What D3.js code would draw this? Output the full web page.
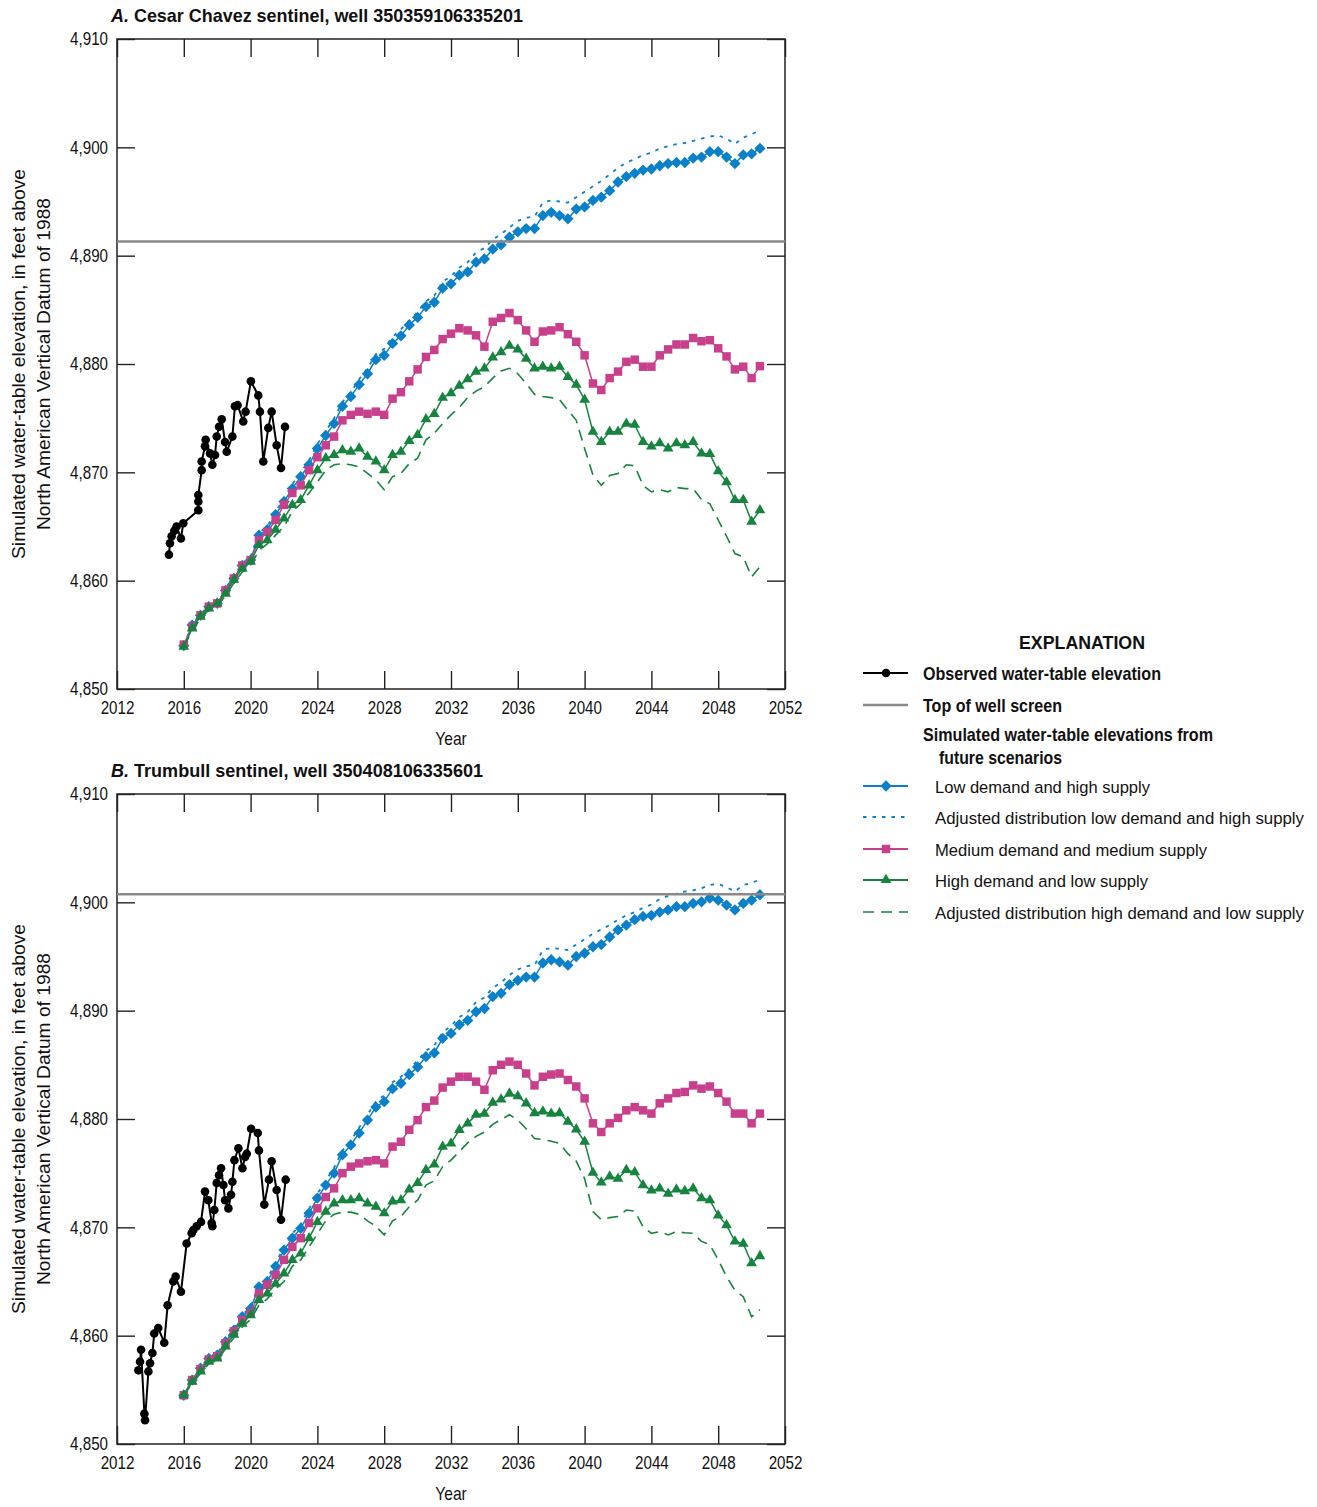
<!DOCTYPE html>
<html>
<head>
<meta charset="utf-8">
<script src="https://cdn.jsdelivr.net/npm/d3@7"></script>
<style>
  body { margin: 0; background: #fff; }
  text { font-family: "Liberation Sans", Arial, sans-serif; fill: #111; }
</style>
</head>
<body>
<div id="chart"></div>
<script>
// simulated time steps (half years)
const simYears = [2016, 2016.5, 2017, 2017.5, 2018, 2018.5, 2019, 2019.5, 2020, 2020.5,
  2021, 2021.5, 2022, 2022.5, 2023, 2023.5, 2024, 2024.5, 2025, 2025.5,
  2026, 2026.5, 2027, 2027.5, 2028, 2028.5, 2029, 2029.5, 2030, 2030.5,
  2031, 2031.5, 2032, 2032.5, 2033, 2033.5, 2034, 2034.5, 2035, 2035.5,
  2036, 2036.5, 2037, 2037.5, 2038, 2038.5, 2039, 2039.5, 2040, 2040.5,
  2041, 2041.5, 2042, 2042.5, 2043, 2043.5, 2044, 2044.5, 2045, 2045.5,
  2046, 2046.5, 2047, 2047.5, 2048, 2048.5, 2049, 2049.5, 2050, 2050.5]

// ---- panel A, Cesar Chavez ----
const obsYearsA = [2015.11, 2015.17, 2015.27, 2015.43, 2015.57, 2015.83, 2015.97, 2016.87, 2016.87, 2016.87,
  2017.07, 2017.07, 2017.27, 2017.31, 2017.57, 2017.71, 2017.87, 2017.97, 2018.11, 2018.27,
  2018.47, 2018.57, 2018.91, 2019.06, 2019.22, 2019.56, 2019.7, 2020.02, 2020.46, 2020.56,
  2020.76, 2021.06, 2021.26, 2021.56, 2021.82, 2022.06]
const obsValuesA = [4862.4, 4863.45, 4864.1, 4864.6, 4865.0, 4863.9, 4865.3, 4866.5, 4867.3, 4867.9,
  4870.2, 4871.0, 4872.4, 4873.0, 4871.75, 4870.7, 4871.6, 4873.3, 4874.2, 4874.9,
  4872.8, 4871.9, 4873.3, 4876.1, 4876.2, 4874.7, 4875.6, 4878.4, 4877.1, 4875.6,
  4871.0, 4874.1, 4875.6, 4872.5, 4870.4, 4874.2]
const screenTopA = 4891.3
const lowHighA = [4854.0, 4855.9, 4856.8, 4857.6, 4857.9, 4859.1, 4860.2, 4861.4, 4861.9, 4864.2,
  4864.7, 4866.1, 4867.3, 4868.5, 4869.6, 4870.7, 4872.2, 4873.4, 4874.5, 4876.1,
  4877.0, 4878.1, 4879.1, 4880.4, 4880.8, 4881.9, 4882.6, 4883.6, 4884.3, 4885.3,
  4885.7, 4887.0, 4887.4, 4888.2, 4888.5, 4889.4, 4889.7, 4890.6, 4891.0, 4891.7,
  4892.2, 4892.5, 4892.5, 4893.7, 4894.0, 4893.7, 4893.4, 4894.3, 4894.5, 4895.1,
  4895.4, 4896.0, 4896.8, 4897.3, 4897.6, 4897.9, 4898.0, 4898.3, 4898.5, 4898.6,
  4898.6, 4899.0, 4899.1, 4899.6, 4899.6, 4899.1, 4898.5, 4899.3, 4899.4, 4899.9]
const adjLowHighA = [4854.0, 4855.9, 4856.9, 4857.7, 4858.0, 4859.3, 4860.4, 4861.6, 4862.2, 4864.4,
  4865.0, 4866.4, 4867.6, 4868.9, 4870.0, 4871.1, 4872.6, 4873.8, 4875.0, 4876.5,
  4877.4, 4878.6, 4879.6, 4880.9, 4881.4, 4882.5, 4883.2, 4884.0, 4884.8, 4885.8,
  4886.3, 4887.6, 4888.1, 4888.9, 4889.4, 4890.3, 4890.7, 4891.5, 4892.0, 4892.6,
  4893.2, 4893.5, 4893.6, 4894.9, 4895.1, 4895.0, 4894.9, 4895.4, 4895.9, 4896.4,
  4896.9, 4897.5, 4898.1, 4898.6, 4898.9, 4899.3, 4899.5, 4899.9, 4900.1, 4900.3,
  4900.4, 4900.6, 4900.8, 4901.0, 4901.1, 4900.8, 4900.3, 4900.9, 4901.2, 4901.6]
const medMedA = [4854.1, 4855.75, 4856.8, 4857.6, 4857.9, 4859.1, 4860.2, 4861.4, 4861.9, 4863.75,
  4864.5, 4865.6, 4867.0, 4868.1, 4868.8, 4870.2, 4871.4, 4872.5, 4873.3, 4874.8,
  4875.3, 4875.6, 4875.4, 4875.6, 4875.3, 4876.8, 4877.4, 4878.4, 4879.5, 4880.65,
  4881.3, 4882.3, 4882.8, 4883.3, 4883.1, 4882.65, 4881.6, 4883.9, 4884.25, 4884.7,
  4884.05, 4883.1, 4882.05, 4883.0, 4883.1, 4883.4, 4882.75, 4882.05, 4880.8, 4878.2,
  4877.6, 4878.7, 4879.3, 4880.2, 4880.4, 4879.75, 4879.75, 4880.8, 4881.35, 4881.8,
  4881.8, 4882.4, 4882.1, 4882.2, 4881.45, 4880.7, 4879.5, 4879.75, 4878.7, 4879.8]
const highLowA = [4853.9, 4855.6, 4856.7, 4857.45, 4857.9, 4858.8, 4860.1, 4861.1, 4861.75, 4863.3,
  4863.75, 4864.7, 4865.75, 4867.0, 4867.45, 4868.8, 4870.2, 4871.3, 4871.6, 4872.05,
  4871.9, 4872.2, 4871.45, 4871.0, 4870.2, 4871.6, 4871.9, 4872.9, 4873.45, 4874.9,
  4875.4, 4876.9, 4877.3, 4878.0, 4878.6, 4879.3, 4879.6, 4880.6, 4881.1, 4881.7,
  4881.35, 4880.5, 4879.6, 4879.75, 4879.6, 4879.75, 4878.8, 4878.1, 4876.7, 4873.75,
  4872.8, 4873.75, 4873.75, 4874.5, 4874.4, 4872.8, 4872.4, 4872.7, 4872.2, 4872.7,
  4872.5, 4872.8, 4871.75, 4871.7, 4870.1, 4869.1, 4867.45, 4867.45, 4865.45, 4866.5]
const adjHighLowA = [4853.9, 4855.4, 4856.5, 4857.3, 4857.7, 4858.6, 4859.8, 4860.8, 4861.4, 4862.8,
  4863.4, 4864.2, 4865.0, 4866.4, 4867.1, 4868.1, 4869.1, 4870.2, 4870.7, 4870.8,
  4870.7, 4870.5, 4869.9, 4869.3, 4868.4, 4869.6, 4869.9, 4870.8, 4871.3, 4873.0,
  4873.6, 4874.5, 4875.3, 4876.0, 4876.9, 4877.5, 4877.9, 4878.7, 4879.35, 4879.6,
  4879.1, 4878.2, 4877.2, 4877.0, 4876.9, 4876.7, 4875.75, 4874.8, 4872.2, 4869.75,
  4868.8, 4869.7, 4869.9, 4870.7, 4870.6, 4868.8, 4868.2, 4868.4, 4868.2, 4868.6,
  4868.5, 4868.5, 4867.5, 4867.1, 4865.6, 4864.1, 4862.5, 4862.2, 4860.35, 4861.3]

// ---- panel B, Trumbull ----
const obsYearsB = [2013.28, 2013.38, 2013.44, 2013.64, 2013.68, 2013.88, 2013.98, 2014.12, 2014.23, 2014.47,
  2014.83, 2015.03, 2015.37, 2015.51, 2015.83, 2016.17, 2016.47, 2016.57, 2016.77, 2017.03,
  2017.27, 2017.47, 2017.67, 2017.71, 2017.83, 2017.97, 2018.11, 2018.23, 2018.37, 2018.47,
  2018.67, 2018.83, 2018.91, 2019.03, 2019.27, 2019.51, 2019.67, 2019.77, 2020.03, 2020.43,
  2020.5, 2020.82, 2021.1, 2021.26, 2021.56, 2021.82, 2022.1]
const obsValuesB = [4856.8, 4857.6, 4858.7, 4852.8, 4852.2, 4856.7, 4857.45, 4858.4, 4860.2, 4860.7,
  4859.35, 4862.8, 4865.0, 4865.45, 4864.05, 4868.5, 4869.45, 4869.75, 4870.1, 4870.5,
  4873.3, 4872.5, 4870.4, 4870.1, 4871.6, 4874.1, 4874.8, 4875.45, 4873.9, 4872.5,
  4871.75, 4873.0, 4874.2, 4876.2, 4877.3, 4875.45, 4876.5, 4876.8, 4879.1, 4878.7,
  4877.1, 4872.1, 4874.4, 4876.1, 4873.45, 4870.7, 4874.4]
const screenTopB = 4900.75
const lowHighB = [4854.5, 4855.9, 4857.0, 4857.9, 4858.2, 4859.45, 4860.5, 4861.75, 4862.5, 4864.5,
  4865.0, 4866.4, 4867.9, 4869.0, 4869.9, 4871.3, 4872.7, 4873.9, 4875.0, 4876.7,
  4877.6, 4878.7, 4879.9, 4881.1, 4881.6, 4882.8, 4883.3, 4884.1, 4884.8, 4885.75,
  4886.1, 4887.45, 4887.9, 4888.7, 4889.1, 4889.9, 4890.2, 4891.3, 4891.6, 4892.4,
  4892.8, 4893.1, 4893.1, 4894.4, 4894.7, 4894.5, 4894.2, 4895.0, 4895.3, 4895.9,
  4896.1, 4896.8, 4897.45, 4897.9, 4898.4, 4898.7, 4898.8, 4899.1, 4899.3, 4899.6,
  4899.6, 4899.9, 4900.05, 4900.4, 4900.2, 4899.75, 4899.3, 4899.9, 4900.2, 4900.7]
const adjLowHighB = [4854.5, 4856.0, 4857.1, 4858.0, 4858.3, 4859.6, 4860.7, 4861.9, 4862.7, 4864.7,
  4865.3, 4866.7, 4868.2, 4869.4, 4870.3, 4871.7, 4873.1, 4874.3, 4875.5, 4877.1,
  4878.0, 4879.2, 4880.4, 4881.6, 4882.2, 4883.4, 4883.9, 4884.6, 4885.4, 4886.3,
  4886.8, 4888.0, 4888.6, 4889.4, 4889.9, 4890.8, 4891.2, 4892.1, 4892.6, 4893.3,
  4893.8, 4894.1, 4894.2, 4895.6, 4895.8, 4895.7, 4895.6, 4896.1, 4896.6, 4897.1,
  4897.5, 4897.9, 4898.4, 4898.8, 4899.1, 4899.5, 4899.8, 4900.3, 4900.6, 4900.8,
  4901.0, 4901.1, 4901.3, 4901.6, 4901.7, 4901.4, 4901.0, 4901.6, 4901.8, 4902.1]
const medMedB = [4854.5, 4855.9, 4856.9, 4857.8, 4858.1, 4859.3, 4860.4, 4861.45, 4862.1, 4863.9,
  4864.7, 4865.6, 4867.0, 4868.2, 4869.0, 4870.4, 4871.75, 4872.8, 4873.6, 4875.0,
  4875.6, 4875.9, 4876.1, 4876.2, 4875.9, 4877.45, 4877.9, 4879.0, 4879.9, 4881.1,
  4881.7, 4882.9, 4883.45, 4883.9, 4883.9, 4883.45, 4882.7, 4884.5, 4885.0, 4885.3,
  4885.0, 4884.2, 4883.1, 4883.9, 4884.1, 4884.2, 4883.6, 4883.0, 4881.9, 4879.6,
  4878.8, 4879.6, 4880.1, 4880.8, 4881.1, 4880.8, 4880.5, 4881.45, 4881.9, 4882.4,
  4882.5, 4883.1, 4882.8, 4883.0, 4882.4, 4881.6, 4880.5, 4880.5, 4879.6, 4880.5]
const highLowB = [4854.5, 4855.75, 4856.7, 4857.6, 4857.9, 4859.0, 4860.1, 4861.1, 4861.9, 4863.3,
  4863.9, 4864.8, 4865.75, 4867.0, 4867.6, 4869.0, 4870.5, 4871.45, 4872.2, 4872.5,
  4872.5, 4872.7, 4872.2, 4871.9, 4871.3, 4872.4, 4872.5, 4873.5, 4874.1, 4875.3,
  4875.8, 4877.45, 4877.75, 4879.0, 4879.6, 4880.4, 4880.5, 4881.5, 4881.8, 4882.35,
  4882.1, 4881.45, 4880.55, 4880.7, 4880.5, 4880.55, 4879.75, 4879.05, 4877.9, 4875.05,
  4874.15, 4874.7, 4874.5, 4875.3, 4875.1, 4873.9, 4873.4, 4873.6, 4873.1, 4873.5,
  4873.35, 4873.6, 4872.7, 4872.5, 4871.1, 4870.2, 4868.7, 4868.5, 4866.7, 4867.35]
const adjHighLowB = [4854.5, 4855.6, 4856.5, 4857.4, 4857.7, 4858.8, 4859.8, 4860.8, 4861.5, 4862.8,
  4863.4, 4864.3, 4865.0, 4866.4, 4867.0, 4868.2, 4869.4, 4870.6, 4871.2, 4871.4,
  4871.4, 4871.2, 4870.6, 4870.1, 4869.3, 4870.6, 4871.0, 4871.9, 4872.5, 4873.9,
  4874.3, 4875.6, 4876.2, 4877.0, 4877.8, 4878.4, 4878.8, 4879.5, 4879.95, 4880.4,
  4879.9, 4879.1, 4878.2, 4878.1, 4877.95, 4877.75, 4876.8, 4876.1, 4874.5, 4871.45,
  4870.7, 4870.9, 4871.0, 4871.6, 4871.5, 4870.05, 4869.45, 4869.6, 4869.3, 4869.6,
  4869.5, 4869.45, 4868.7, 4868.4, 4867.0, 4865.45, 4864.2, 4863.6, 4861.75, 4862.4]

const xTicks = [2012, 2016, 2020, 2024, 2028, 2032, 2036, 2040, 2044, 2048, 2052]
const yTicks = [4850, 4860, 4870, 4880, 4890, 4900, 4910]

const blue = '#0a80c8'
const pink = '#c8408b'
const green = '#16843f'
const gray = '#8a8a8a'

const width = 1317
const height = 1507
const plotLeft = 117
const plotWidth = 668
const plotHeight = 650
const squeeze = 0.82 // condensed type, the installed fonts are all normal width

const svg = d3.select('#chart')
  .append('svg')
    .attr('width', width)
    .attr('height', height)

// squeeze a text to a condensed width (or to a given width)
function narrow(sel, w) {
  sel.each(function() {
    const len = w || this.getComputedTextLength() * squeeze
    d3.select(this).attr('textLength', len).attr('lengthAdjust', 'spacingAndGlyphs')
  })
  return sel
}

const xScale = d3.scaleLinear().domain([2012, 2052]).range([0, plotWidth])
const yScale = d3.scaleLinear().domain([4850, 4910]).range([plotHeight, 0])

const zipUp = (xs, ys) => xs.map((v, i) => [v, ys[i]])

const panels = [
  { letter: 'A.', name: ' Cesar Chavez sentinel, well 350359106335201', titleWidth: 412, top: 39,
    obs: zipUp(obsYearsA, obsValuesA), screen: screenTopA,
    lowHigh: lowHighA, adjLowHigh: adjLowHighA, medMed: medMedA, highLow: highLowA, adjHighLow: adjHighLowA },
  { letter: 'B.', name: ' Trumbull sentinel, well 350408106335601', titleWidth: 372, top: 794,
    obs: zipUp(obsYearsB, obsValuesB), screen: screenTopB,
    lowHigh: lowHighB, adjLowHigh: adjLowHighB, medMed: medMedB, highLow: highLowB, adjHighLow: adjHighLowB }
]

const line = d3.line().x(d => xScale(d[0])).y(d => yScale(d[1]))

const diamond = d3.symbol(d3.symbolSquare, 64)
const square = d3.symbol(d3.symbolSquare, 72)
const triangle = d3.symbol(d3.symbolTriangle, 50)

function drawPanel(p) {
  const g = svg.append('g').attr('transform', `translate(${plotLeft}, ${p.top})`)

  // title
  const title = svg.append('text')
    .attr('x', 111)
    .attr('y', p.top - 17)
    .style('font-size', '18.5px')
    .style('font-weight', 'bold')
  title.append('tspan').style('font-style', 'italic').text(p.letter)
  title.append('tspan').text(p.name)
  narrow(title, p.titleWidth)

  // axes, ticks pointing inward
  g.append('g')
    .attr('transform', `translate(0, ${plotHeight})`)
    .call(d3.axisBottom(xScale).tickValues(xTicks).tickSize(-18).tickSizeOuter(0).tickPadding(12).tickFormat(d3.format('d')))
  g.append('g')
    .call(d3.axisTop(xScale).tickValues(xTicks).tickSize(-18).tickSizeOuter(0).tickFormat(''))
  g.append('g')
    .call(d3.axisLeft(yScale).tickValues(yTicks).tickSize(-18).tickSizeOuter(0).tickPadding(9).tickFormat(d3.format(',')))
  g.append('g')
    .attr('transform', `translate(${plotWidth}, 0)`)
    .call(d3.axisRight(yScale).tickValues(yTicks).tickSize(-18).tickSizeOuter(0).tickFormat(''))

  g.selectAll('.tick line').attr('stroke', '#222').attr('stroke-width', 1.4)
  g.selectAll('.domain').remove()
  const tickText = g.selectAll('.tick text')
    .style('font-size', '18.5px')
    .attr('fill', '#111')
    .style('font-family', '"Liberation Sans", Arial, sans-serif')
  narrow(tickText)

  g.append('rect')
    .attr('width', plotWidth)
    .attr('height', plotHeight)
    .attr('fill', 'none')
    .attr('stroke', '#222')
    .attr('stroke-width', 1.5)

  // axis titles
  narrow(svg.append('text')
    .attr('x', plotLeft + plotWidth / 2)
    .attr('y', p.top + plotHeight + 56)
    .attr('text-anchor', 'middle')
    .style('font-size', '19px')
    .text('Year'))

  const midY = p.top + plotHeight / 2
  narrow(svg.append('text')
    .attr('transform', `translate(25, ${midY}) rotate(-90)`)
    .attr('text-anchor', 'middle')
    .style('font-size', '19px')
    .text('Simulated water-table elevation, in feet above'), 390)
  narrow(svg.append('text')
    .attr('transform', `translate(50, ${midY}) rotate(-90)`)
    .attr('text-anchor', 'middle')
    .style('font-size', '19px')
    .text('North American Vertical Datum of 1988'), 332)

  const series = d => zipUp(simYears, d)

  // low demand and high supply
  g.append('path')
    .attr('d', line(series(p.lowHigh)))
    .attr('fill', 'none')
    .attr('stroke', blue)
    .attr('stroke-width', 1.5)
  g.selectAll('.diamond')
    .data(series(p.lowHigh))
    .enter()
    .append('path')
      .attr('class', 'diamond')
      .attr('d', diamond)
      .attr('transform', d => `translate(${xScale(d[0])}, ${yScale(d[1])}) rotate(45)`)
      .attr('fill', blue)

  // adjusted distribution low demand and high supply
  g.append('path')
    .attr('d', line(series(p.adjLowHigh)))
    .attr('fill', 'none')
    .attr('stroke', blue)
    .attr('stroke-width', 1.8)
    .attr('stroke-dasharray', '3.5,6')

  // medium demand and medium supply
  g.append('path')
    .attr('d', line(series(p.medMed)))
    .attr('fill', 'none')
    .attr('stroke', pink)
    .attr('stroke-width', 1.5)
  g.selectAll('.square')
    .data(series(p.medMed))
    .enter()
    .append('path')
      .attr('class', 'square')
      .attr('d', square)
      .attr('transform', d => `translate(${xScale(d[0])}, ${yScale(d[1])})`)
      .attr('fill', pink)

  // adjusted distribution high demand and low supply
  g.append('path')
    .attr('d', line(series(p.adjHighLow)))
    .attr('fill', 'none')
    .attr('stroke', green)
    .attr('stroke-width', 1.6)
    .attr('stroke-dasharray', '11,7')

  // high demand and low supply
  g.append('path')
    .attr('d', line(series(p.highLow)))
    .attr('fill', 'none')
    .attr('stroke', green)
    .attr('stroke-width', 1.5)
  g.selectAll('.tri')
    .data(series(p.highLow))
    .enter()
    .append('path')
      .attr('class', 'tri')
      .attr('d', triangle)
      .attr('transform', d => `translate(${xScale(d[0])}, ${yScale(d[1])})`)
      .attr('fill', green)

  // top of well screen
  g.append('line')
    .attr('x1', 0)
    .attr('x2', plotWidth)
    .attr('y1', yScale(p.screen))
    .attr('y2', yScale(p.screen))
    .attr('stroke', gray)
    .attr('stroke-width', 2.5)

  // observed
  g.append('path')
    .attr('d', line(p.obs))
    .attr('fill', 'none')
    .attr('stroke', '#000')
    .attr('stroke-width', 2)
  g.selectAll('.obs')
    .data(p.obs)
    .enter()
    .append('circle')
      .attr('class', 'obs')
      .attr('cx', d => xScale(d[0]))
      .attr('cy', d => yScale(d[1]))
      .attr('r', 4.3)
      .attr('fill', '#000')
}

panels.forEach(drawPanel)

// ---- explanation ----
const legend = svg.append('g')
narrow(legend.append('text')
  .attr('x', 1082)
  .attr('y', 649)
  .attr('text-anchor', 'middle')
  .style('font-size', '19px')
  .style('font-weight', 'bold')
  .text('EXPLANATION'), 126)

const legendItems = [
  { y: 673, label: 'Observed water-table elevation', w: 238, bold: true, color: '#000', mark: 'circle' },
  { y: 705, label: 'Top of well screen', w: 139, bold: true, color: gray, width: 2.5 },
  { y: 786, label: 'Low demand and high supply', w: 215, color: blue, mark: 'diamond' },
  { y: 817, label: 'Adjusted distribution low demand and high supply', w: 369, color: blue, dash: '3.5,6', width: 1.8 },
  { y: 849, label: 'Medium demand and medium supply', w: 272, color: pink, mark: 'square' },
  { y: 880, label: 'High demand and low supply', w: 213, color: green, mark: 'triangle' },
  { y: 912, label: 'Adjusted distribution high demand and low supply', w: 369, color: green, dash: '11,7', width: 1.6 }
]

legendItems.forEach(item => {
  legend.append('line')
    .attr('x1', 863)
    .attr('x2', 908)
    .attr('y1', item.y)
    .attr('y2', item.y)
    .attr('stroke', item.color)
    .attr('stroke-width', item.width || 1.8)
    .attr('stroke-dasharray', item.dash || null)
  if (item.mark === 'circle') {
    legend.append('circle').attr('cx', 886).attr('cy', item.y).attr('r', 4.3).attr('fill', item.color)
  } else if (item.mark === 'diamond') {
    legend.append('path').attr('d', diamond).attr('transform', `translate(886, ${item.y}) rotate(45)`).attr('fill', item.color)
  } else if (item.mark === 'square') {
    legend.append('path').attr('d', square).attr('transform', `translate(886, ${item.y})`).attr('fill', item.color)
  } else if (item.mark === 'triangle') {
    legend.append('path').attr('d', triangle).attr('transform', `translate(886, ${item.y})`).attr('fill', item.color)
  }
  // regular-weight lines are set a little smaller so the long ones stay inside the page
  narrow(legend.append('text')
    .attr('x', item.bold ? 923 : 935)
    .attr('y', item.y + 6.5)
    .style('font-size', item.bold ? '18.5px' : '17.2px')
    .style('font-weight', item.bold ? 'bold' : 'normal')
    .text(item.label), item.w)
})

narrow(legend.append('text')
  .attr('x', 923)
  .attr('y', 740.5)
  .style('font-size', '18.5px')
  .style('font-weight', 'bold')
  .text('Simulated water-table elevations from'), 290)
narrow(legend.append('text')
  .attr('x', 939)
  .attr('y', 763.5)
  .style('font-size', '18.5px')
  .style('font-weight', 'bold')
  .text('future scenarios'), 123)
</script>
</body>
</html>
